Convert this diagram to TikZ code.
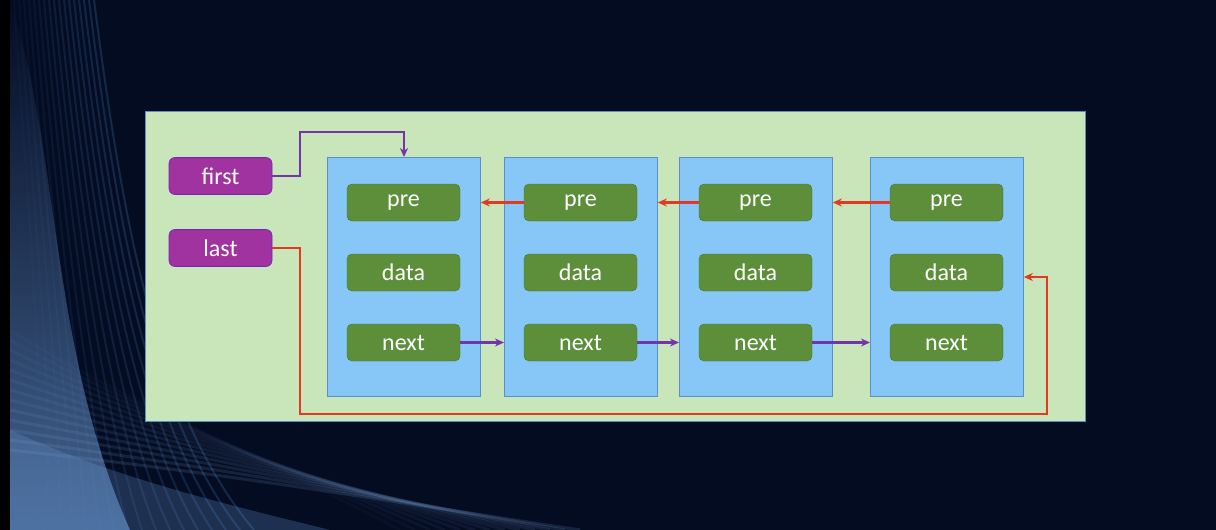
\documentclass[tikz,border=0pt]{standalone}
\usepackage{fontspec}
\setmainfont{Carlito}
\usetikzlibrary{arrows.meta,calc}
\definecolor{bgnavy}{HTML}{040C22}
\definecolor{panelgreen}{HTML}{C9E6BA}
\definecolor{panelborder}{HTML}{5B8FC0}
\definecolor{boxblue}{HTML}{86C7F7}
\definecolor{boxborder}{HTML}{5A8FCF}
\definecolor{fieldgreen}{HTML}{5D8F3B}
\definecolor{ptrpurple}{HTML}{A0339F}
\definecolor{linepurple}{HTML}{7236A8}
\definecolor{linered}{HTML}{E23A22}
\definecolor{streak}{HTML}{4A86D0}
\tikzset{
  x=1pt, y=-1pt,
  nodebox/.style={draw=boxborder, line width=0.8pt, fill=boxblue, minimum width=153pt, minimum height=239pt, anchor=north west, inner sep=0pt},
  field/.style={fill=fieldgreen, draw=fieldgreen!80!black, line width=0.4pt, rounded corners=5pt, minimum width=113pt, minimum height=37pt, text=white, font=\fontsize{24}{26}\selectfont, inner sep=0pt},
  ptr/.style={fill=ptrpurple, draw=ptrpurple!70!blue, line width=0.6pt, rounded corners=6pt, minimum width=103pt, minimum height=37pt, text=white, font=\fontsize{24}{26}\selectfont, inner sep=0pt},
  nextarrow/.style={draw=linepurple, line width=2.6pt, -{Stealth[length=9pt,width=8pt]}},
  prearrow/.style={draw=linered, line width=2.6pt, -{Stealth[length=9pt,width=8pt]}},
}
\begin{document}
\begin{tikzpicture}
\useasboundingbox (0,0) rectangle (1216,530);
% background
\fill[black] (0,0) rectangle (1216,530);
\fill[bgnavy] (10,0) rectangle (1216,530);
\begin{scope}
\clip (10,0) rectangle (1216,530);
\shade[top color=bgnavy, bottom color=streak!80!white, opacity=0.6]
  (10,0) .. controls (60,150) and (50,350) .. (130,530) -- (10,530) -- cycle;
\foreach \i in {0,...,16}{
  \draw[streak, line width=2pt, opacity=0.04+0.012*\i]
    ({14+5*\i},0) .. controls ({30+6*\i},250) and ({50+7*\i},420) .. ({30+14*\i},530);
}
\foreach \i in {0,...,12}{
  \draw[streak!70!white, line width=3pt, opacity=0.03+0.01*\i]
    (10,{330+10*\i}) .. controls ({120+8*\i},{400+6*\i}) and ({250+10*\i},{450+4*\i}) .. ({400+15*\i},530);
}
\fill[streak!80!white, opacity=0.25] (10,430) .. controls (120,480) and (230,505) .. (330,530) -- (10,530) -- cycle;
\end{scope}
% panel
\node[draw=panelborder, line width=0.8pt, fill=panelgreen, minimum width=940pt, minimum height=310pt, anchor=north west, inner sep=0pt] (panel) at (145,111) {};
% node boxes
\node[nodebox] (b1) at (327,157) {};
\node[nodebox] (b2) at (504,157) {};
\node[nodebox] (b3) at (679,157) {};
\node[nodebox] (b4) at (870,157) {};
% fields
\foreach \k/\cx in {1/403.5, 2/580.5, 3/755.5, 4/946.5}{
  \node[field] (pre\k) at (\cx,202.5) {pre};
  \node[field] (data\k) at (\cx,272.5) {data};
  \node[field] (next\k) at (\cx,342.5) {next};
}
% pointers
\node[ptr] (first) at (220.5,176) {first};
\node[ptr] (last) at (220.5,248) {last};
% next arrows
\draw[nextarrow] (next1.east) -- (b2.west |- next1.east);
\draw[nextarrow] (next2.east) -- (b3.west |- next2.east);
\draw[nextarrow] (next3.east) -- (b4.west |- next3.east);
% pre arrows
\draw[prearrow] (pre2.west) -- (b1.east |- pre2.west);
\draw[prearrow] (pre3.west) -- (b2.east |- pre3.west);
\draw[prearrow] (pre4.west) -- (b3.east |- pre4.west);
% first / last
\coordinate (fa) at (300,132);
\draw[nextarrow] (first.east) -- (fa |- first.east) -- (fa) -- (404,132) -- (b1.north -| 404,0);
\coordinate (la) at (300,414);
\coordinate (lb) at (1047,414);
\draw[prearrow] (last.east) -- (la |- last.east) -- (la) -- (lb) -- (1047,277) -- (b4.east |- 0,277);
\end{tikzpicture}
\end{document}
